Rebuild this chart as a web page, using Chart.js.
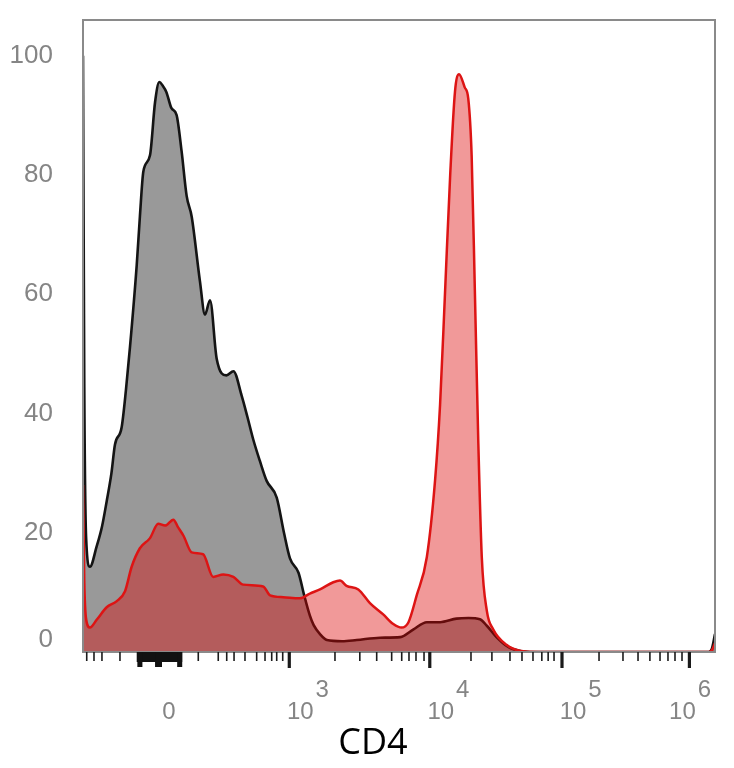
<!DOCTYPE html>
<html>
<head>
<meta charset="utf-8">
<title>CD4 histogram</title>
<script src="https://cdn.jsdelivr.net/npm/chart.js@4.4.1/dist/chart.umd.min.js"></script>
<style>
  html, body { margin: 0; padding: 0; background: #fff; }
  canvas { display: block; }
</style>
</head>
<body>
<canvas id="cd4Chart" width="734" height="768"></canvas>
<script>
// x values are display channels (0..1000 across the biexponential CD4 axis)
const grayChannels = [0, 2, 5, 11, 21.6, 30, 37.5, 45, 50.6, 61, 68, 74.4, 85, 90, 95.5, 106, 114, 120.8, 126, 132, 140, 148, 156, 164, 172, 185, 193, 201, 211.5, 227, 238, 251, 260, 269.5, 280, 290.6, 306.5, 318, 327.5, 341, 350, 359, 365, 375, 386, 410, 433, 470, 502, 523, 544, 565, 591, 610, 628, 639, 655, 668, 680, 707, 800, 990, 995, 1000];
const grayCounts = [100, 45, 19, 14.3, 17.7, 21, 25.3, 30, 34.8, 37.6, 44, 51.2, 64.9, 73, 80.6, 83.3, 92.2, 95.6, 95, 93.9, 91.2, 90.1, 84, 76.5, 73, 62.2, 56.6, 59, 49.2, 46.4, 47.1, 43, 39.5, 35.6, 32, 28.7, 25.9, 20, 15.7, 13.3, 9.5, 6.1, 4.5, 3, 2, 1.8, 2, 2.4, 2.5, 3.8, 5, 5, 5.6, 5.7, 5.5, 4.4, 2.4, 1.2, 0.5, 0, 0, 0, 0.5, 3];

const redChannels = [0, 2, 5, 11, 21.6, 37.5, 53, 66.5, 77, 90, 106, 119, 130, 143, 150, 159, 172, 190, 206, 222, 238, 253.6, 285, 296, 317, 343, 359, 375, 396, 406.6, 417, 435.6, 454, 475, 491, 504, 515, 528, 544, 557, 565, 573, 581, 588.6, 595, 604, 609.6, 615, 620, 625.5, 631, 639, 649, 670, 691, 720, 990, 995, 1000];
const redCounts = [28, 12, 5.5, 4.1, 5.4, 7.5, 8.5, 10.2, 14.3, 17.4, 19.1, 21.5, 21.2, 22.2, 21, 19.5, 16.7, 16.4, 12.6, 13, 12.6, 11.3, 11, 9.5, 9.2, 9, 9.8, 10.5, 11.7, 12, 11.1, 10.5, 8.2, 6.3, 4.7, 4.1, 5, 9.5, 15.9, 28.7, 41.5, 60.7, 80, 94, 96.9, 94.7, 92.8, 83.1, 60.7, 35.1, 15.9, 6.9, 3.8, 1.2, 0.2, 0, 0, 0.3, 1.5];

const yTickValues = [0, 20, 40, 60, 80, 100];

const xZeroChannel = 136;
const xMajorChannels = [326.4, 548.7, 757.9, 959.5];
const xMajorExponents = ["3", "4", "5", "6"];
const xMinorChannels = [5.9, 17.4, 30, 58.5, 182.4, 214, 227.4, 239, 256.3, 274.8, 288, 298.6, 306.5, 316,
  398.7, 438, 464.7, 488.4, 504.3, 515.8, 526.9, 539.6,
  613.9, 647, 675.6, 694.6, 712, 726, 736, 745.3,
  816.5, 854.4, 878.2, 897, 913, 925.6, 936.7, 947.8];
const xDenseBand = [85, 157];
const xDenseNotches = [[86, 94], [114, 125], [149, 157]];

const axisTitle = "CD4";

function toPoints(xs, ys) {
  return xs.map((x, i) => ({ x: x, y: ys[i] }));
}

const axisDecor = {
  id: "axisDecor",
  afterDraw(chart) {
    const { ctx, chartArea, scales } = chart;
    const x = scales.x;
    const y = scales.y;
    const bottom = chartArea.bottom;

    ctx.save();

    // frame
    ctx.strokeStyle = "#8a8a8a";
    ctx.lineWidth = 2;
    ctx.strokeRect(chartArea.left, chartArea.top, chartArea.right - chartArea.left, chartArea.bottom - chartArea.top);

    // minor ticks
    ctx.strokeStyle = "#1a1a1a";
    ctx.lineWidth = 1.6;
    xMinorChannels.forEach(c => {
      const px = x.getPixelForValue(c);
      ctx.beginPath();
      ctx.moveTo(px, bottom);
      ctx.lineTo(px, bottom + 9);
      ctx.stroke();
    });

    // dense band of ticks around zero
    ctx.fillStyle = "#111";
    const b0 = x.getPixelForValue(xDenseBand[0]);
    const b1 = x.getPixelForValue(xDenseBand[1]);
    ctx.fillRect(b0, bottom, b1 - b0, 10);
    xDenseNotches.forEach(n => {
      const n0 = x.getPixelForValue(n[0]);
      const n1 = x.getPixelForValue(n[1]);
      ctx.fillRect(n0, bottom, n1 - n0, 15);
    });

    // major ticks
    ctx.lineWidth = 3.2;
    xMajorChannels.forEach(c => {
      const px = x.getPixelForValue(c);
      ctx.beginPath();
      ctx.moveTo(px, bottom);
      ctx.lineTo(px, bottom + 16);
      ctx.stroke();
    });

    // x tick labels
    ctx.fillStyle = "#858585";
    ctx.font = "24px 'Liberation Sans', Arial, sans-serif";
    ctx.textAlign = "center";
    ctx.textBaseline = "middle";
    ctx.fillText("0", x.getPixelForValue(xZeroChannel), 712);
    xMajorChannels.forEach((c, i) => {
      const px = x.getPixelForValue(c);
      const shift = i === xMajorChannels.length - 1 ? -7 : 11;
      ctx.fillText("10", px + shift, 712);
      ctx.fillText(xMajorExponents[i], px + shift + 22, 690);
    });

    // y tick labels
    ctx.font = "26px 'Liberation Sans', Arial, sans-serif";
    ctx.textAlign = "right";
    yTickValues.forEach(v => {
      let py = y.getPixelForValue(v);
      if (v === 0) py -= 12;
      ctx.fillText(String(v), 53, py);
    });

    // axis title
    ctx.fillStyle = "#000";
    ctx.font = "36px 'Open Sans', 'Noto Sans', sans-serif";
    ctx.textAlign = "center";
    ctx.fillText(axisTitle, 373, 744);

    ctx.restore();
  }
};

const ctx = document.getElementById("cd4Chart");

const cd4Chart = new Chart(ctx, {
  type: "line",
  data: {
    datasets: [{
      label: "CD4 stained",
      data: toPoints(redChannels, redCounts),
      borderColor: "#dd1414",
      backgroundColor: "rgba(220, 0, 0, 0.4)",
      borderWidth: 2.5,
      fill: "origin",
      pointRadius: 0,
      cubicInterpolationMode: "monotone"
    }, {
      label: "Control",
      data: toPoints(grayChannels, grayCounts),
      borderColor: "#141414",
      backgroundColor: "#999999",
      borderWidth: 2.6,
      fill: "origin",
      pointRadius: 0,
      cubicInterpolationMode: "monotone"
    }]
  },
  options: {
    responsive: false,
    animation: false,
    devicePixelRatio: 1,
    layout: {
      padding: { top: 20, right: 19, left: 0, bottom: 0 }
    },
    scales: {
      x: {
        type: "linear",
        min: 0,
        max: 1000,
        grid: { display: false },
        border: { display: false },
        ticks: { display: false },
        afterFit: scale => { scale.height = 116; }
      },
      y: {
        min: 0,
        max: 106,
        grid: { display: false },
        border: { display: false },
        ticks: { display: false },
        afterFit: scale => { scale.width = 83; }
      }
    },
    plugins: {
      legend: { display: false },
      tooltip: { enabled: false }
    }
  },
  plugins: [axisDecor]
});
</script>
</body>
</html>
